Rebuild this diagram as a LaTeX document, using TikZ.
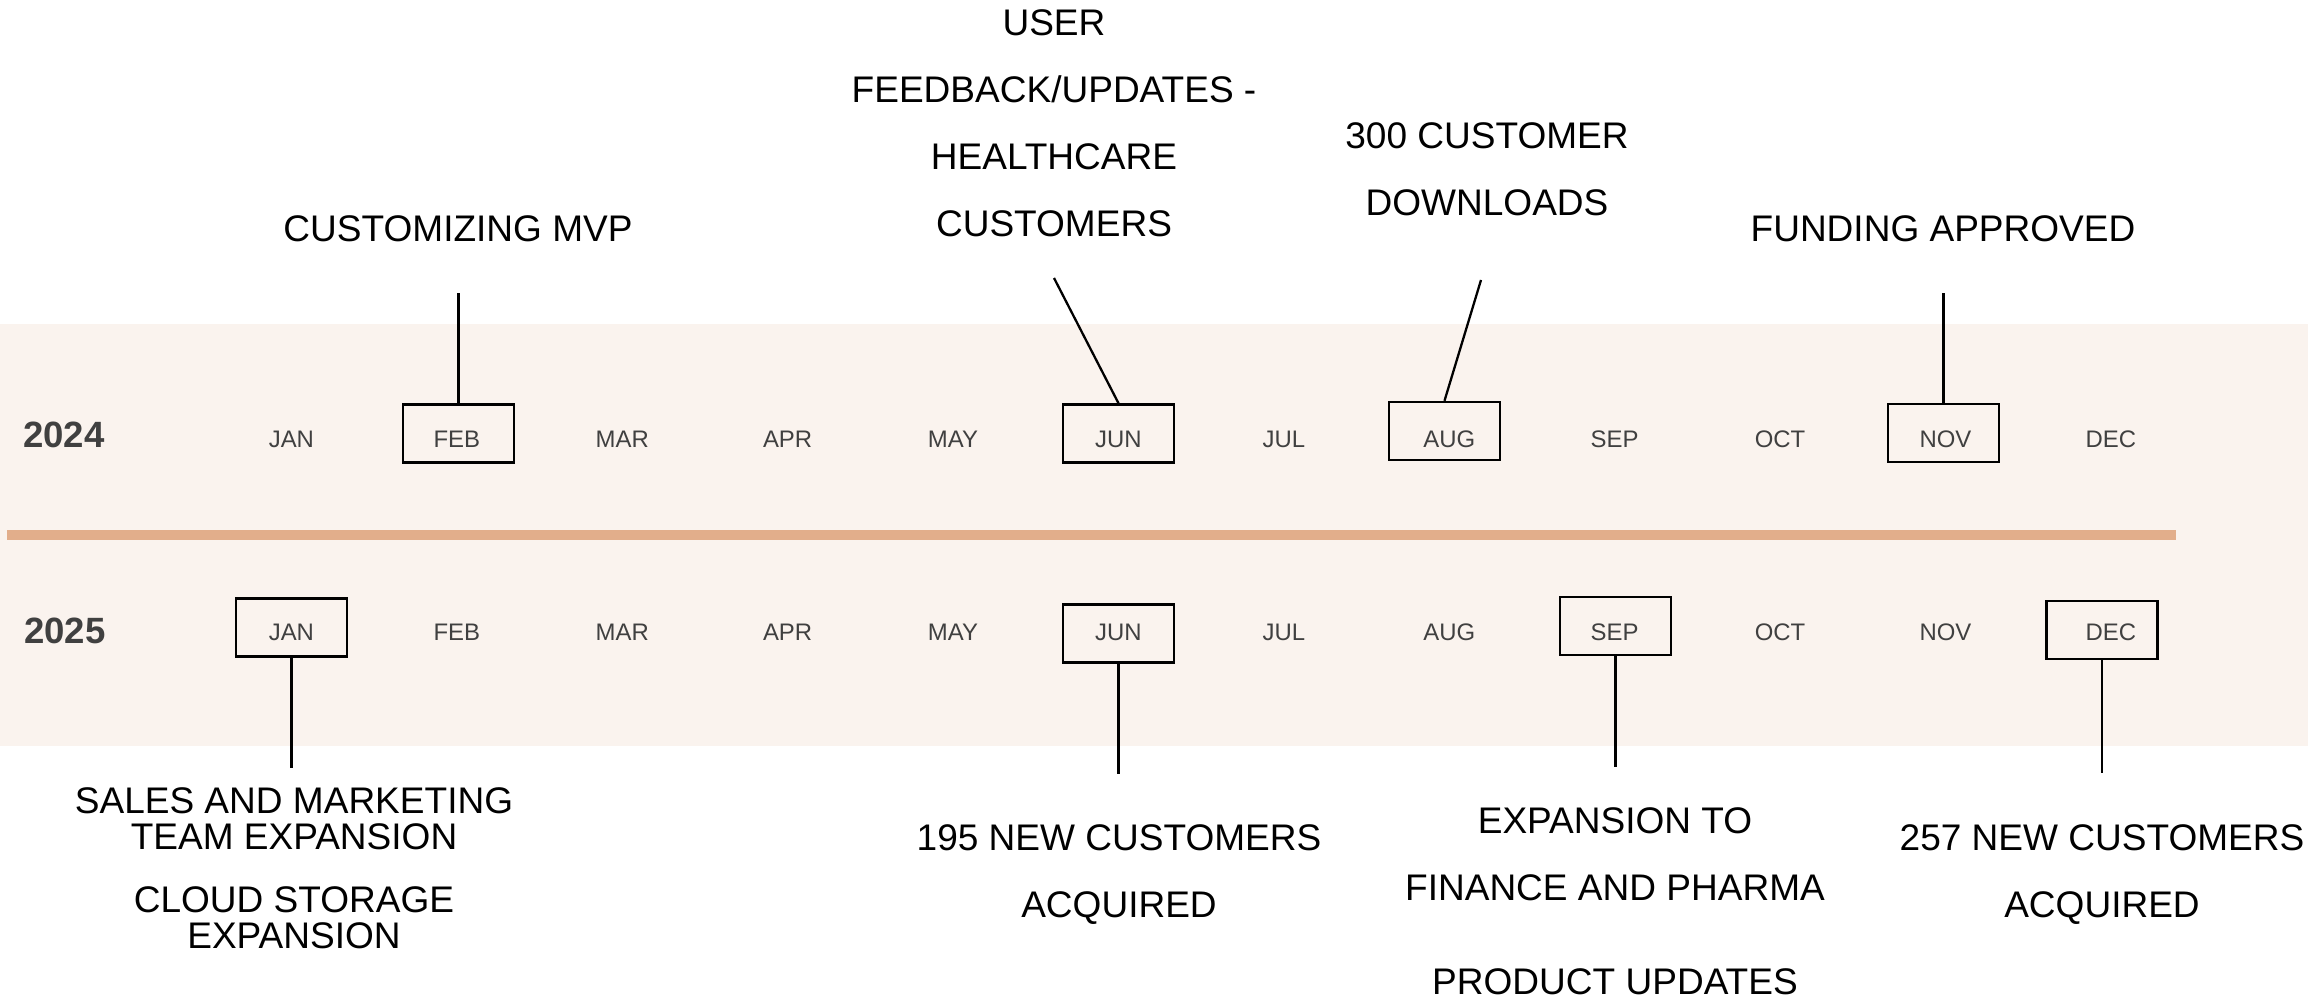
\documentclass[tikz,border=0pt]{standalone}
\usepackage{fontspec}
\setmainfont{Liberation Sans}
\definecolor{bandcol}{HTML}{FAF3EE}
\definecolor{rulecol}{HTML}{E2AE8B}
\definecolor{mtxt}{HTML}{404040}
\begin{document}
\begin{tikzpicture}[x=0.01cm,y=-0.01cm,
  month/.style={font=\fontsize{6.8}{8}\selectfont, text=mtxt, inner sep=0pt, text height=0.17cm, text depth=0pt},
  yearlbl/.style={font=\fontsize{10.4}{12}\selectfont\bfseries, text=mtxt, inner sep=0pt, text height=0.26cm, text depth=0pt},
  mbox/.style={draw=black, line width=0.7pt, minimum width=1.11cm, minimum height=0.58cm, inner sep=0pt},
  lbl/.style={font=\fontsize{10.53}{19.05}\selectfont, align=center, inner sep=0pt, anchor=north},
  lbltight/.style={font=\fontsize{10.53}{10.24}\selectfont, align=center, inner sep=0pt, anchor=north},
  conn/.style={line width=0.65pt}]
\useasboundingbox (0,0) rectangle (2308,1000);
% background band and divider
\fill[bandcol] (0,324) rectangle (2308,746);
\fill[rulecol] (7,530) rectangle (2176,540);
% years
\node[yearlbl] (y24) at (64,434) {2024};
\node[yearlbl] (y25) at (65,630) {2025};
% months
\foreach \m [count=\i from 0] in {JAN,FEB,MAR,APR,MAY,JUN,JUL,AUG,SEP,OCT,NOV,DEC} {
  \node[month] (m24\m) at ({291.4+165.4*\i},438.5) {\m};
  \node[month] (m25\m) at ({291.4+165.4*\i},632) {\m};
}
% highlight boxes
\node[mbox] (b24feb) at (458.5,433.5) {};
\node[mbox] (b24jun) at (1118.5,433.5) {};
\node[mbox] (b24aug) at (1444.5,431) {};
\node[mbox] (b24nov) at (1943.5,433) {};
\node[mbox] (b25jan) at (291.5,627.5) {};
\node[mbox] (b25jun) at (1118.5,633.5) {};
\node[mbox] (b25sep) at (1615.5,626) {};
\node[mbox] (b25dec) at (2102,630) {};
% connector free ends
\coordinate (c24feb) at (458.5,293);
\coordinate (c24jun) at (1054,278);
\coordinate (c24aug) at (1481,280);
\coordinate (c24nov) at (1943.5,293);
\coordinate (c25jan) at (291.5,768);
\coordinate (c25jun) at (1118.5,774);
\coordinate (c25sep) at (1615.5,767);
\coordinate (c25dec) at (2102,773);
\draw[conn] (b24feb.north) -- (c24feb);
\draw[conn] (b24jun.north) -- (c24jun);
\draw[conn] (b24aug.north) -- (c24aug);
\draw[conn] (b24nov.north) -- (c24nov);
\draw[conn] (b25jan.south) -- (c25jan);
\draw[conn] (b25jun.south) -- (c25jun);
\draw[conn] (b25sep.south) -- (c25sep);
\draw[conn] (b25dec.south) -- (c25dec);
% labels above
\node[lbl] (l24feb) at (458,215) {CUSTOMIZING MVP};
\node[lbl] (l24jun) at (1054,9) {USER\\FEEDBACK/UPDATES -\\HEALTHCARE\\CUSTOMERS};
\node[lbl] (l24aug) at (1487,122) {300 CUSTOMER\\DOWNLOADS};
\node[lbl] (l24nov) at (1943,215) {FUNDING APPROVED};
% labels below
\node[lbltight] (l25jan) at (294,787) {SALES AND MARKETING\\TEAM EXPANSION\\[0.27cm]CLOUD STORAGE\\EXPANSION};
\node[lbl] (l25jun) at (1119,824) {195 NEW CUSTOMERS\\ACQUIRED};
\node[lbl] (l25sep) at (1615,807) {EXPANSION TO\\FINANCE AND PHARMA\\[0.27cm]PRODUCT UPDATES};
\node[lbl] (l25dec) at (2102,824) {257 NEW CUSTOMERS\\ACQUIRED};
\end{tikzpicture}
\end{document}
